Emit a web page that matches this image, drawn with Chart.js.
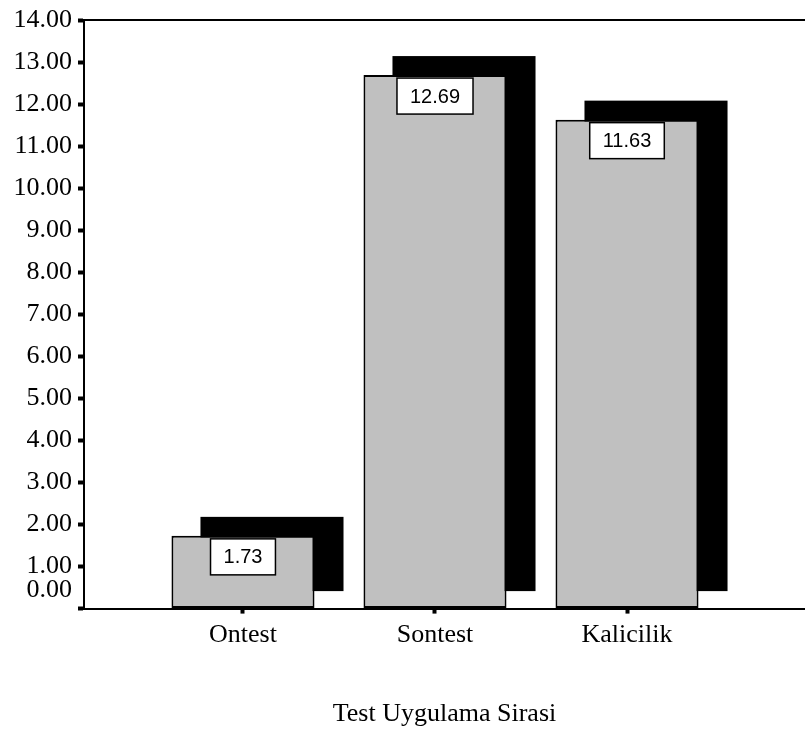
<!DOCTYPE html>
<html>
<head>
<meta charset="utf-8">
<script src="https://cdn.jsdelivr.net/npm/chart.js@4.4.1/dist/chart.umd.min.js"></script>
<style>
  html, body { margin: 0; padding: 0; background: #fff; }
  #wrap { width: 805px; height: 731px; }
</style>
</head>
<body>
<div id="wrap"><canvas id="barChart"></canvas></div>
<script>
const categories = ['Ontest', 'Sontest', 'Kalicilik'];
const means = [1.73, 12.69, 11.63];
const yMin = 0;
const yMax = 14;
const axisTitle = 'Test Uygulama Sirasi';

const serif = '"Liberation Serif", "Times New Roman", serif';
const sans = '"Liberation Sans", Arial, sans-serif';

// black block behind each bar (SPSS style 3D shadow)
const shadowPlugin = {
    id: 'shadow',
    beforeDatasetsDraw(chart) {
        const ctx = chart.ctx;
        const meta = chart.getDatasetMeta(0);
        ctx.save();
        ctx.fillStyle = '#000';
        meta.data.forEach(bar => {
            const p = bar.getProps(['x', 'y', 'base', 'width'], true);
            const top = p.y - 19;
            const bottom = p.base - 17;
            ctx.fillRect(p.x - p.width / 2 + 29, top, p.width, bottom - top);
        });
        ctx.restore();
    }
};

// boxed value labels + top frame line
const labelPlugin = {
    id: 'valueLabels',
    afterDatasetsDraw(chart) {
        const ctx = chart.ctx;
        const meta = chart.getDatasetMeta(0);
        ctx.save();
        ctx.font = '20px ' + sans;
        ctx.textAlign = 'center';
        ctx.textBaseline = 'middle';
        meta.data.forEach((bar, i) => {
            const p = bar.getProps(['x', 'y'], true);
            const text = means[i].toFixed(2);
            const bw = ctx.measureText(text).width + 26;
            const bh = 36;
            const bx = p.x - bw / 2;
            const by = p.y + 3;
            ctx.fillStyle = '#fff';
            ctx.fillRect(bx, by, bw, bh);
            ctx.lineWidth = 1.5;
            ctx.strokeStyle = '#000';
            ctx.strokeRect(bx, by, bw, bh);
            ctx.fillStyle = '#000';
            ctx.fillText(text, p.x, by + bh / 2 + 1);
        });
        const a = chart.chartArea;
        ctx.lineWidth = 2;
        ctx.beginPath();
        ctx.moveTo(a.left, a.top);
        ctx.lineTo(a.right, a.top);
        ctx.stroke();
        ctx.restore();
    }
};

const ctx = document.getElementById('barChart').getContext('2d');
new Chart(ctx, {
    type: 'bar',
    data: {
        datasets: [{
            data: means.map((v, i) => ({ x: i + 1, y: v })),
            backgroundColor: '#c0c0c0',
            borderColor: '#000',
            borderWidth: 2,
            borderSkipped: false,
            barPercentage: 0.745,
            categoryPercentage: 1
        }]
    },
    options: {
        responsive: true,
        maintainAspectRatio: false,
        animation: false,
        layout: { padding: { top: 20, right: 0, bottom: 0, left: 0 } },
        plugins: {
            legend: { display: false },
            tooltip: { enabled: false }
        },
        scales: {
            x: {
                type: 'linear',
                min: 0.172,
                max: 3.927,
                offset: false,
                afterBuildTicks: scale => {
                    scale.ticks = categories.map((c, i) => ({ value: i + 1 }));
                },
                ticks: {
                    autoSkip: false,
                    maxRotation: 0,
                    padding: 6,
                    color: '#000',
                    font: { family: serif, size: 26 },
                    callback: value => categories[value - 1]
                },
                grid: {
                    offset: false,
                    drawOnChartArea: false,
                    tickLength: 5,
                    tickWidth: 4,
                    tickColor: '#000'
                },
                border: { display: true, color: '#000', width: 2 },
                title: {
                    display: true,
                    text: axisTitle,
                    color: '#000',
                    font: { family: serif, size: 26 },
                    padding: { top: 42, bottom: 1 }
                }
            },
            y: {
                min: yMin,
                max: yMax,
                afterFit: scale => {
                    scale.width = 84;
                    scale.paddingTop = 0;
                    scale.paddingBottom = 0;
                },
                ticks: {
                    stepSize: 1,
                    autoSkip: false,
                    padding: 6,
                    color: '#000',
                    font: { family: serif, size: 26, lineHeight: 1.4 },
                    // the 0.00 label sits a bit higher in the original
                    callback: value => value === 0 ? ['0.00', ''] : value.toFixed(2)
                },
                grid: {
                    drawOnChartArea: false,
                    tickLength: 6,
                    tickWidth: 4,
                    tickColor: '#000'
                },
                border: { display: true, color: '#000', width: 2 }
            }
        }
    },
    plugins: [shadowPlugin, labelPlugin]
});
</script>
</body>
</html>
